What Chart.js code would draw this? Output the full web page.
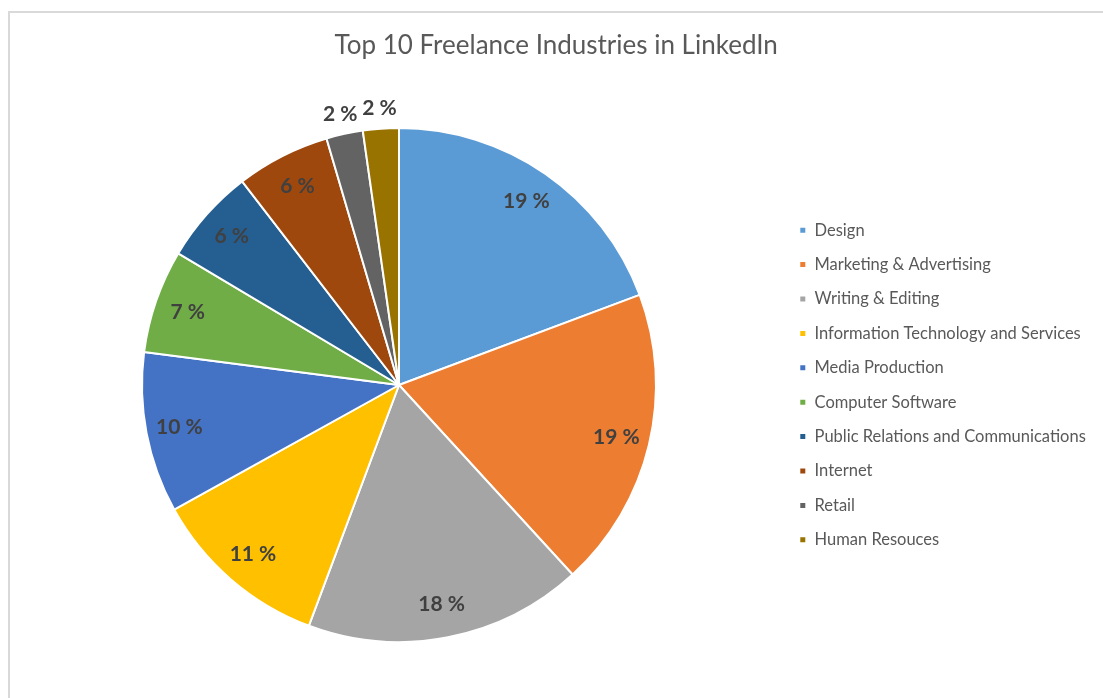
<!DOCTYPE html>
<html>
<head>
<meta charset="utf-8">
<script src="https://cdn.jsdelivr.net/npm/chart.js@4.4.1/dist/chart.umd.min.js"></script>
<style>
  html, body { margin: 0; padding: 0; background: #fff; overflow: hidden; }
  #frame { position: absolute; left: 8px; top: 11px; width: 1300px; height: 900px; border: 2px solid #d9d9d9; }
  #myChart { position: absolute; left: 0; top: 0; }
</style>
</head>
<body>
<div id="frame"></div>
<canvas id="myChart" width="1103" height="698"></canvas>
<script>
// data (percent shares)
var industries = ['Design', 'Marketing & Advertising', 'Writing & Editing', 'Information Technology and Services',
  'Media Production', 'Computer Software', 'Public Relations and Communications', 'Internet', 'Retail', 'Human Resouces'];
var shares = [19.3, 18.9, 17.5, 11.25, 10.1, 6.5, 6.0, 5.9, 2.3, 2.25];
var colors = ['#5b9bd5', '#ed7d31', '#a5a5a5', '#ffc000', '#4472c4', '#70ad47', '#255e91', '#9e480e', '#636363', '#997300'];

var fontName = 'Lato, "Open Sans", sans-serif';
var legendFont = 16.5;
var legendPad = 17.9;
var boxSize = 7;
var legendLeft = 781.4; // where the legend block should begin

// percentage labels, inside the slice or just outside for the thin ones
var pieLabels = {
  id: 'pieLabels',
  afterDatasetsDraw: function (chart) {
    var c = chart.ctx;
    var meta = chart.getDatasetMeta(0);
    var total = shares.reduce(function (a, b) { return a + b; }, 0);
    c.save();
    c.font = 'bold 21px ' + fontName;
    c.fillStyle = '#404040';
    c.textAlign = 'center';
    c.textBaseline = 'middle';
    meta.data.forEach(function (arc, i) {
      var p = arc.getProps(['x', 'y', 'startAngle', 'endAngle', 'outerRadius'], true);
      var mid = (p.startAngle + p.endAngle) / 2;
      var pct = shares[i] / total * 100;
      var r = pct < 3 ? p.outerRadius + 20 : p.outerRadius * 0.87;
      c.fillText(Math.round(pct) + ' %', p.x + Math.cos(mid) * r, p.y + Math.sin(mid) * r);
    });
    c.restore();
  }
};

var ctx = document.getElementById('myChart').getContext('2d');
var myChart = new Chart(ctx, {
  type: 'pie',
  data: {
    labels: industries,
    datasets: [{
      data: shares,
      backgroundColor: colors,
      borderColor: '#ffffff',
      borderWidth: 2
    }]
  },
  options: {
    responsive: false,
    animation: false,
    layout: { padding: { left: 16.6, right: 0, top: 10, bottom: 55 } },
    plugins: {
      title: {
        display: true,
        text: 'Top 10 Freelance Industries in LinkedIn',
        color: '#595959',
        font: { family: fontName, size: 26, weight: 'normal' },
        padding: { top: 20, bottom: 65.8 }
      },
      legend: {
        position: 'right',
        fullSize: false,
        labels: {
          color: '#595959',
          font: { family: fontName, size: legendFont },
          boxWidth: boxSize,
          boxHeight: boxSize,
          padding: legendPad
        }
      },
      tooltip: { enabled: false }
    }
  },
  plugins: [pieLabels]
});

// slide the legend so it starts at legendLeft, which also centres the pie
var shift = myChart.legend.left - legendLeft;
myChart.options.layout.padding.right = Math.max(0, shift);
myChart.update('none');
</script>
</body>
</html>
